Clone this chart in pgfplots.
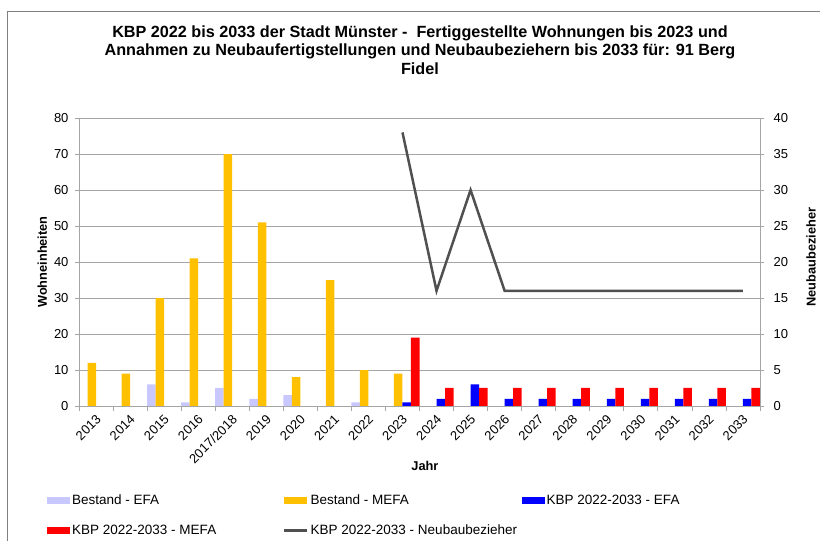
\documentclass[border=0pt]{standalone}
\usepackage{pgfplots}
\pgfplotsset{compat=1.18}
\usepackage{fontspec}
\setmainfont{Liberation Sans}

\definecolor{efaalt}{RGB}{200,200,255}
\definecolor{mefaalt}{RGB}{255,192,0}
\definecolor{efaneu}{RGB}{0,0,255}
\definecolor{mefaneu}{RGB}{255,0,0}
\definecolor{linie}{RGB}{80,80,80}
\definecolor{achse}{RGB}{165,165,165}

\pgfplotsset{
  basis/.style={
    scale only axis, width=681pt, height=288pt,
    at={(79pt,135pt)}, anchor=south west,
    xmin=-0.5, xmax=19.5, ymin=0,
    tick align=outside,
    major tick length=4pt,
    tick style={achse, line width=0.8pt},
    axis line style={achse, line width=0.8pt},
    yticklabel style={font=\fontsize{13}{15}\selectfont},
    xticklabel style={font=\fontsize{13}{15}\selectfont},
    /pgf/number format/assume math mode=true,
  },
  balken/.style={ybar, bar width=0.25, draw=none,
    legend image code/.code={\fill[##1] (0pt,-3.5pt) rectangle (23pt,3.5pt);}},
  linienlegende/.style={
    legend image code/.code={\draw[##1] (0pt,0pt) -- (23pt,0pt);}},
}
\newcommand{\spalte}[1]{\makebox[209pt][l]{#1}}

\begin{document}
\begin{tikzpicture}[x=1pt,y=1pt]
\path[use as bounding box] (0,0) rectangle (820,541);
\draw[gray, line width=0.8pt] (7,0) -- (7,530) -- (820,530);

\node[align=center, font=\bfseries\fontsize{16.2}{18.5}\selectfont] at (420,491)
  {KBP 2022 bis 2033 der Stadt Münster -\ \ Fertiggestellte Wohnungen bis 2023 und\\
   Annahmen zu Neubaufertigstellungen und Neubaubeziehern bis 2033 für: 91 Berg\\
   Fidel};

\begin{axis}[basis,
  ymax=80, ytick={0,10,...,80},
  ytick pos=left, xtick pos=bottom,
  yticklabel style={xshift=-3pt},
  ymajorgrids, major grid style={achse, line width=0.8pt},
  xtick={0,...,19},
  xticklabels={2013,2014,2015,2016,2017/2018,2019,2020,2021,2022,2023,
    2024,2025,2026,2027,2028,2029,2030,2031,2032,2033},
  major x tick style={draw=none},
  minor xtick={-0.5,0.5,...,19.5},
  minor tick length=5pt,
  xticklabel style={rotate=45, anchor=east, yshift=-7pt},
  xlabel={Jahr}, ylabel={Wohneinheiten},
  every axis x label/.style={at={(axis description cs:0.508,-0.208)}, anchor=center,
    font=\bfseries\fontsize{12.8}{14}\selectfont},
  every axis y label/.style={at={(axis description cs:-0.054,0.5)}, rotate=90, anchor=center,
    font=\bfseries\fontsize{12.8}{14}\selectfont},
  legend columns=3,
  legend cell align=left,
  legend style={at={(-0.047,-0.300)}, anchor=north west, draw=none, fill=none,
    inner sep=0pt, row sep=15pt, font=\fontsize{13.5}{15}\selectfont,
    nodes={inner sep=2pt}},
]
% Bestand - EFA
\addplot[balken, bar shift=-0.375, fill=efaalt] coordinates {
  (2,6) (3,1) (4,5) (5,2) (6,3) (8,1)
};
\addlegendentry{\spalte{Bestand - EFA}}
% Bestand - MEFA
\addplot[balken, bar shift=-0.125, fill=mefaalt] coordinates {
  (0,12) (1,9) (2,30) (3,41) (4,70) (5,51) (6,8) (7,35) (8,10) (9,9)
};
\addlegendentry{\spalte{Bestand - MEFA}}
% KBP 2022-2033 - EFA
\addplot[balken, bar shift=0.125, fill=efaneu] coordinates {
  (9,1) (10,2) (11,6) (12,2) (13,2) (14,2) (15,2) (16,2) (17,2) (18,2) (19,2)
};
\addlegendentry{KBP 2022-2033 - EFA}
% KBP 2022-2033 - MEFA
\addplot[balken, bar shift=0.375, fill=mefaneu] coordinates {
  (9,19) (10,5) (11,5) (12,5) (13,5) (14,5) (15,5) (16,5) (17,5) (18,5) (19,5)
};
\addlegendentry{\spalte{KBP 2022-2033 - MEFA}}
\addlegendimage{linie, line width=2.5pt, linienlegende}
\addlegendentry{KBP 2022-2033 - Neubaubezieher}
\end{axis}

\begin{axis}[basis,
  ymax=40, ytick={0,5,...,40},
  ytick pos=right, yticklabel pos=right,
  yticklabel style={xshift=6pt},
  xtick=\empty,
  ylabel={Neubaubezieher},
  every axis y label/.style={at={(axis description cs:1.075,0.517)}, rotate=90, anchor=center,
    font=\bfseries\fontsize{12.8}{14}\selectfont},
]
\addplot[linie, line width=2.5pt, mark=none] coordinates {
  (9,38) (10,16) (11,30) (12,16) (13,16) (14,16) (15,16) (16,16) (17,16) (18,16) (19,16)
};
\end{axis}
\end{tikzpicture}
\end{document}
